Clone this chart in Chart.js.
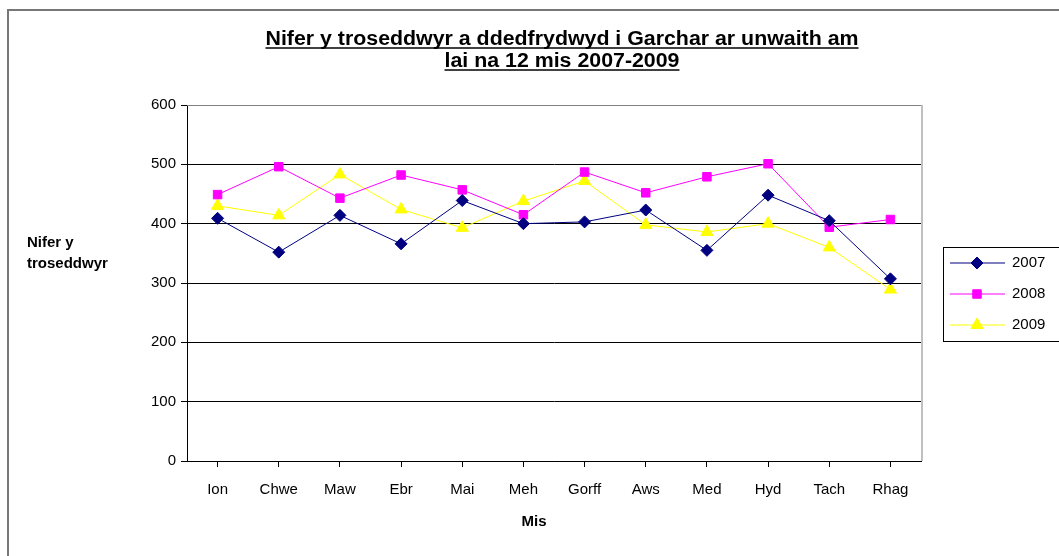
<!DOCTYPE html>
<html>
<head>
<meta charset="utf-8">
<script src="https://cdn.jsdelivr.net/npm/chart.js@4.4.1/dist/chart.umd.min.js"></script>
<style>
  html, body { margin: 0; padding: 0; background: #fff; }
</style>
</head>
<body>
<canvas id="chart" width="1059" height="556"></canvas>
<script>
var months = ["Ion", "Chwe", "Maw", "Ebr", "Mai", "Meh", "Gorff", "Aws", "Med", "Hyd", "Tach", "Rhag"];
var y2007 = [409, 352, 414, 366, 439, 400, 403, 423, 355, 448, 405, 307];
var y2008 = [449, 496, 443, 482, 457, 415, 487, 452, 479, 501, 394, 407];
var y2009 = [430, 414, 483, 424, 393, 438, 472, 398, 386, 400, 360, 289];
var titleLines = ["Nifer y troseddwyr a ddedfrydwyd i Garchar ar unwaith am", "lai na 12 mis 2007-2009"];
var yTitle = ["Nifer y", "troseddwyr"];
var xTitle = "Mis";

var FONT = "'Liberation Sans', Arial, sans-serif";

// title, axis titles, frame and legend drawn by hand
var decor = {
    id: "decor",
    afterDraw: function (chart) {
        var ctx = chart.ctx;
        var area = chart.chartArea;
        ctx.save();

        // outer frame (left and top only, the rest is cropped)
        ctx.strokeStyle = "#777";
        ctx.lineWidth = 2;
        ctx.beginPath();
        ctx.moveTo(8, 556);
        ctx.lineTo(8, 10);
        ctx.lineTo(1059, 10);
        ctx.stroke();

        // plot area border
        ctx.lineWidth = 1;
        ctx.strokeStyle = "#808080";
        ctx.beginPath();
        ctx.moveTo(area.left, area.top + 0.5);
        ctx.lineTo(area.right, area.top + 0.5);
        ctx.stroke();
        ctx.strokeStyle = "#c0c0c0";
        ctx.lineWidth = 2;
        ctx.beginPath();
        ctx.moveTo(area.right + 1, area.top);
        ctx.lineTo(area.right + 1, area.bottom);
        ctx.stroke();

        // title, bold and underlined, stretched to the reference width
        ctx.fillStyle = "#000";
        ctx.strokeStyle = "#000";
        ctx.font = "bold 20px " + FONT;
        ctx.textAlign = "center";
        ctx.textBaseline = "alphabetic";
        var w1 = ctx.measureText(titleLines[0]).width;
        var sx = 593 / w1;
        var ys = [45, 67];
        titleLines.forEach(function (t, i) {
            var w = ctx.measureText(t).width * sx;
            ctx.save();
            ctx.translate(562, ys[i]);
            ctx.scale(sx, 1);
            ctx.fillText(t, 0, 0);
            ctx.restore();
            ctx.lineWidth = 1.5;
            ctx.beginPath();
            ctx.moveTo(562 - w / 2, ys[i] + 3);
            ctx.lineTo(562 + w / 2, ys[i] + 3);
            ctx.stroke();
        });

        // axis titles
        ctx.font = "bold 15px " + FONT;
        ctx.textAlign = "left";
        ctx.textBaseline = "middle";
        ctx.fillText(yTitle[0], 27, 243);
        ctx.fillText(yTitle[1], 27, 264);
        ctx.textAlign = "center";
        ctx.fillText(xTitle, 534, 522);

        // legend
        ctx.lineWidth = 1;
        ctx.strokeStyle = "#000";
        ctx.strokeRect(943.5, 247.5, 130, 94);
        var rows = [263, 294, 325];
        ctx.font = "15px " + FONT;
        ctx.textAlign = "left";
        chart.data.datasets.forEach(function (ds, i) {
            var y = rows[i];
            ctx.strokeStyle = ds.borderColor;
            ctx.beginPath();
            ctx.moveTo(950, y);
            ctx.lineTo(1005, y);
            ctx.stroke();
            ctx.fillStyle = ds.pointBackgroundColor;
            ctx.strokeStyle = ds.pointBorderColor;
            Chart.helpers.drawPoint(ctx, {
                pointStyle: ds.pointStyle,
                radius: ds.pointRadius,
                rotation: 0,
                borderWidth: 1
            }, 977, y);
            ctx.fillStyle = "#000";
            ctx.fillText(ds.label, 1012, y);
        });
        ctx.restore();
    }
};

var chart = new Chart(document.getElementById("chart").getContext("2d"), {
    type: "line",
    data: {
        labels: months,
        datasets: [{
            label: "2007",
            data: y2007,
            borderColor: "#000080",
            borderWidth: 1,
            pointStyle: "rectRot",
            pointRadius: 6,
            pointBackgroundColor: "#000080",
            pointBorderColor: "#000080",
            tension: 0
        }, {
            label: "2008",
            data: y2008,
            borderColor: "#ff00ff",
            borderWidth: 1,
            pointStyle: "rect",
            pointRadius: 6,
            pointBackgroundColor: "#ff00ff",
            pointBorderColor: "#ff00ff",
            tension: 0
        }, {
            label: "2009",
            data: y2009,
            borderColor: "#ffff00",
            borderWidth: 1,
            pointStyle: "triangle",
            pointRadius: 7,
            pointBackgroundColor: "#ffff00",
            pointBorderColor: "#ffff00",
            tension: 0
        }]
    },
    options: {
        responsive: false,
        animation: false,
        devicePixelRatio: 1,
        layout: { padding: { top: 105, right: 138, left: 0, bottom: 0 } },
        plugins: {
            legend: { display: false },
            title: { display: false },
            tooltip: { enabled: false }
        },
        scales: {
            x: {
                offset: true,
                afterFit: function (scale) { scale.height = 95; },
                grid: { drawOnChartArea: false, tickLength: 6, color: "#000" },
                border: { color: "#000", width: 1 },
                ticks: { color: "#000", padding: 14, maxRotation: 0, autoSkip: false,
                         font: { family: FONT, size: 15 } }
            },
            y: {
                min: 0,
                max: 600,
                afterFit: function (scale) { scale.width = 187; },
                grid: { color: "#000", tickLength: 6 },
                border: { color: "#000", width: 1 },
                ticks: { stepSize: 100, color: "#000", padding: 5,
                         font: { family: FONT, size: 15 } }
            }
        }
    },
    plugins: [decor]
});
</script>
</body>
</html>
